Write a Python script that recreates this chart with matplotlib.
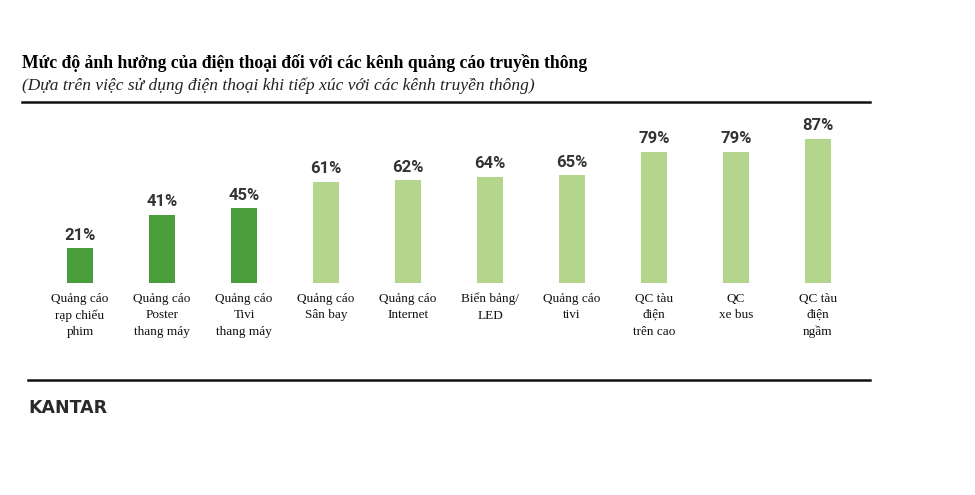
import matplotlib.pyplot as plt
from matplotlib.lines import Line2D

# Data
categories = [
    "Quảng cáo\nrạp chiếu\nphim",
    "Quảng cáo\nPoster\nthang máy",
    "Quảng cáo\nTivi\nthang máy",
    "Quảng cáo\nSân bay",
    "Quảng cáo\nInternet",
    "Biển bảng/\nLED",
    "Quảng cáo\ntivi",
    "QC tàu\nđiện\ntrên cao",
    "QC\nxe bus",
    "QC tàu\nđiện\nngầm",
]
values = [21, 41, 45, 61, 62, 64, 65, 79, 79, 87]
highlight = [True, True, True, False, False, False, False, False, False, False]

DARK = "#4a9e3c"
LIGHT = "#b3d68c"
W, H = 975, 495

fig = plt.figure(figsize=(W / 100, H / 100), dpi=100)

# axes placed in pixel terms: x range [-0.5, 9.5] -> 39..859 px, y 0..100 -> 283..117 px
ax = fig.add_axes([39 / W, (H - 283) / H, 820 / W, 166 / H])
x = list(range(len(values)))
colors = [DARK if h else LIGHT for h in highlight]
ax.bar(x, values, width=0.32, color=colors, zorder=2)
ax.set_xlim(-0.5, 9.5)
ax.set_ylim(0, 100)
for s in ax.spines.values():
    s.set_visible(False)
ax.set_yticks([])
ax.axhline(0, color="#ebebeb", lw=1, zorder=1)

for xi, v in zip(x, values):
    ax.annotate(f"{v}%", (xi, v), xytext=(0, 4), textcoords="offset points",
                ha="center", va="bottom", fontsize=12, fontweight="bold",
                color="#333333", family=["Roboto", "DejaVu Sans"])

ax.set_xticks(x)
ax.set_xticklabels(categories, family="Liberation Serif", fontsize=9.5,
                   linespacing=1.5, color="#111111")
ax.tick_params(axis="x", length=0, pad=7)

# Title and subtitle
fig.text(22 / W, 1 - 63 / H, "Mức độ ảnh hưởng của điện thoại đối với các kênh quảng cáo truyền thông",
         family="Liberation Serif", fontweight="bold", fontsize=12.7, va="center", ha="left")
fig.text(22 / W, 1 - 86 / H, "(Dựa trên việc sử dụng điện thoại khi tiếp xúc với các kênh truyền thông)",
         family="Liberation Serif", style="italic", fontsize=12.5, va="center", ha="left",
         color="#222222")

# Rules
fig.add_artist(Line2D([22 / W, 870 / W], [1 - 102 / H] * 2, color="#111111", lw=1.8))
fig.add_artist(Line2D([28 / W, 870 / W], [1 - 380 / H] * 2, color="#111111", lw=1.8))

# Logo text
fig.text(28 / W, 1 - 408 / H, "KANTAR", family="DejaVu Sans", fontweight="bold",
         fontsize=12.5, va="center", ha="left", color="#2a2a2a")

fig.savefig("out.png", dpi=100)
